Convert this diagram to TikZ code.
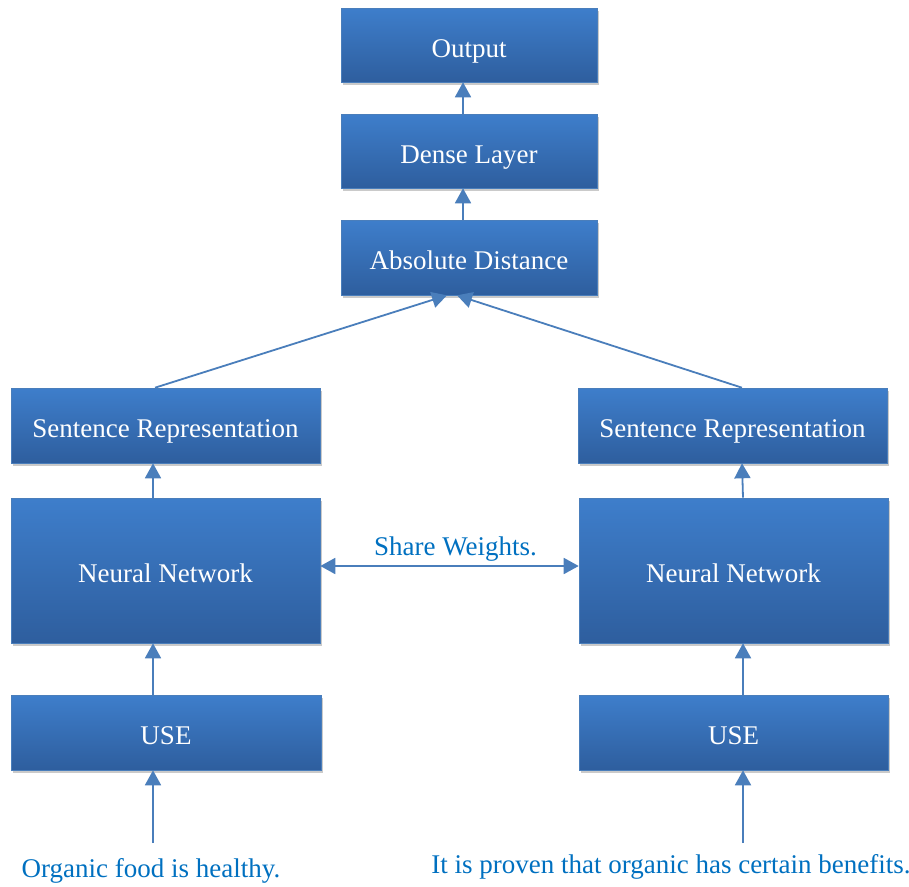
\documentclass[tikz,border=0pt]{standalone}
\usepackage{fontspec}
\setmainfont{Liberation Serif}
\usepackage{tikz}
\usetikzlibrary{arrows.meta,shadows}
\definecolor{boxtop}{RGB}{62,126,203}
\definecolor{boxbot}{RGB}{46,94,158}
\definecolor{linecol}{RGB}{74,126,187}
\definecolor{textblue}{RGB}{0,112,192}

\begin{document}
\begin{tikzpicture}[x=1pt,y=-1pt,
  block/.style={rectangle, draw=linecol, line width=0.6pt, top color=boxtop, bottom color=boxbot,
    text=white, font=\fontsize{27}{30}\selectfont, text height=24pt, text depth=0pt,
    drop shadow={shadow xshift=1.5pt, shadow yshift=-3pt, opacity=0.35, fill=black!60}},
  conn/.style={draw=linecol, line width=1.8pt, -{Triangle[width=16pt,length=15pt]}},
  sent/.style={text=textblue, font=\fontsize{27}{30}\selectfont, inner sep=0pt}]
\useasboundingbox (0,0) rectangle (909,886);

% top stack
\node[block, minimum width=256pt, minimum height=74pt] (out) at (469,45) {Output};
\node[block, minimum width=256pt, minimum height=74pt] (dense) at (469,151) {Dense Layer};
\node[block, minimum width=256pt, minimum height=75pt] (abs) at (469,257.5) {Absolute Distance};

% left branch
\node[block, minimum width=309pt, minimum height=75pt] (srl) at (165.5,425.5) {Sentence Representation};
\node[block, minimum width=309pt, minimum height=145pt] (nnl) at (165.5,570.5) {Neural Network};
\node[block, minimum width=310pt, minimum height=75pt] (usel) at (166,732.5) {USE};
\node[sent] (inl) at (151,871) {Organic food is healthy.};
\coordinate (sl) at (153,843);

% right branch
\node[block, minimum width=309pt, minimum height=75pt] (srr) at (732.5,425.5) {Sentence Representation};
\node[block, minimum width=309pt, minimum height=145pt] (nnr) at (733.5,570.5) {Neural Network};
\node[block, minimum width=309pt, minimum height=75pt] (user) at (733.5,732.5) {USE};
\node[sent] (inr) at (671,867) {It is proven that organic has certain benefits.};
\coordinate (sr) at (743,843);

% connectors
\draw[conn] (sl) -- ([xshift=-13pt]usel.south);
\draw[conn] (sr) -- ([xshift=9.5pt]user.south);
\draw[conn] ([xshift=-13pt]usel.north) -- ([xshift=-12.5pt]nnl.south);
\draw[conn] ([xshift=9.5pt]user.north) -- ([xshift=9.5pt]nnr.south);
\draw[conn] ([xshift=-12.5pt]nnl.north) -- ([xshift=-12.5pt]srl.south);
\draw[conn] ([xshift=9.5pt]nnr.north) -- ([xshift=9.5pt]srr.south);
\draw[conn] ([xshift=-10.5pt]srl.north) -- ([xshift=-22pt]abs.south);
\draw[conn] ([xshift=9.5pt]srr.north) -- ([xshift=-12pt]abs.south);
\draw[conn] ([xshift=-6pt]abs.north) -- ([xshift=-6pt]dense.south);
\draw[conn] ([xshift=-6pt]dense.north) -- ([xshift=-6pt]out.south);
\draw[conn, {Triangle[width=16pt,length=15pt]}-{Triangle[width=16pt,length=15pt]}]
  ([yshift=4.5pt]nnl.east) -- node[sent, above=4pt, xshift=6pt] (sw) {Share Weights.} ([yshift=4.5pt]nnr.west);
\end{tikzpicture}
\end{document}
